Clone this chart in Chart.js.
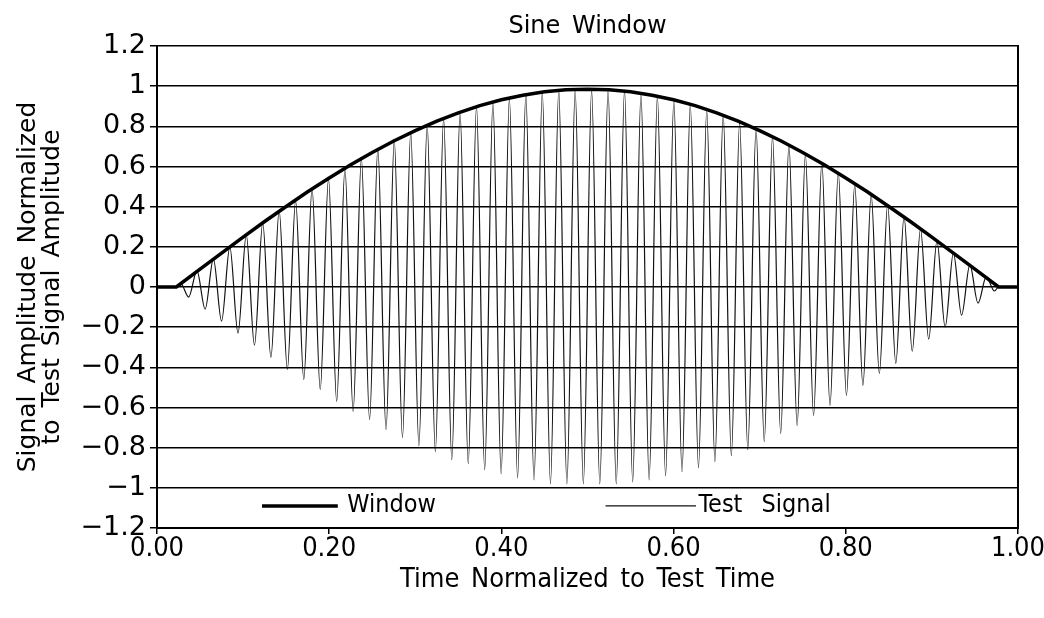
<!DOCTYPE html>
<html>
<head>
<meta charset="utf-8">
<script src="https://cdn.jsdelivr.net/npm/chart.js@4"></script>
<style>
html,body{margin:0;padding:0;background:#fff;}
#wrap{width:1044px;height:618px;}
</style>
</head>
<body>
<div id="wrap"><canvas id="sineChart" width="1044" height="618"></canvas></div>
<script>
// Values
const seriesNames=["Window","Test Signal"];
const xTickLabels=["0.00","0.20","0.40","0.60","0.80","1.00"];
const yTickLabels=["\u22121.2","\u22121","\u22120.8","\u22120.6","\u22120.4","\u22120.2","0","0.2","0.4","0.6","0.8","1","1.2"];

// Window envelope
const windowTimes=[0,0.0225,0.05,0.075,0.1,0.125,0.15,0.175,0.2,0.225,0.25,0.275,0.3,0.325,0.35,0.375,0.4,0.425,0.45,0.475,
  0.5,0.525,0.55,0.575,0.6,0.625,0.65,0.675,0.7,0.725,0.75,0.775,0.8,0.825,0.85,0.875,0.9,0.925,0.95,0.9775,1];
const windowValues=[0,0,0.089,0.169,0.248,0.326,0.401,0.474,0.543,0.609,0.670,0.727,0.779,0.826,0.867,0.903,0.932,0.955,0.972,0.982,
  0.985,0.982,0.972,0.955,0.932,0.903,0.867,0.826,0.779,0.727,0.670,0.609,0.543,0.474,0.401,0.326,0.248,0.169,0.089,0,0];

// Test signal: peaks and troughs of the burst
const signalTimes=[0,0.0225,
  0.0273,0.0368,0.0464,0.0559,0.0655,0.0750,0.0846,0.0941,0.1037,0.1132,0.1228,0.1323,0.1419,0.1514,0.1610,0.1705,0.1801,0.1896,0.1992,0.2087,
  0.2183,0.2278,0.2374,0.2469,0.2565,0.2660,0.2756,0.2851,0.2947,0.3042,0.3138,0.3233,0.3329,0.3424,0.3520,0.3615,0.3711,0.3806,0.3902,0.3997,
  0.4093,0.4188,0.4284,0.4379,0.4475,0.4570,0.4666,0.4761,0.4857,0.4952,0.5048,0.5143,0.5239,0.5334,0.5430,0.5525,0.5621,0.5716,0.5812,0.5907,
  0.6003,0.6098,0.6194,0.6289,0.6385,0.6480,0.6576,0.6671,0.6767,0.6862,0.6958,0.7053,0.7149,0.7244,0.7340,0.7435,0.7531,0.7626,0.7722,0.7817,
  0.7913,0.8008,0.8104,0.8199,0.8295,0.8390,0.8486,0.8581,0.8677,0.8772,0.8868,0.8963,0.9059,0.9154,0.9250,0.9345,0.9441,0.9536,0.9632,0.9727,
  0.9775,1];
const signalValues=[0,0,
  0.02,-0.05,0.08,-0.11,0.14,-0.17,0.20,-0.23,0.26,-0.29,0.32,-0.35,0.38,-0.41,0.43,-0.46,0.49,-0.51,0.54,-0.57,
  0.59,-0.62,0.64,-0.66,0.69,-0.71,0.73,-0.75,0.77,-0.79,0.81,-0.82,0.84,-0.86,0.87,-0.88,0.90,-0.91,0.92,-0.93,
  0.94,-0.95,0.96,-0.96,0.97,-0.98,0.98,-0.98,0.98,-0.98,0.98,-0.98,0.98,-0.98,0.98,-0.97,0.96,-0.96,0.95,-0.94,
  0.93,-0.92,0.91,-0.90,0.88,-0.87,0.86,-0.84,0.82,-0.81,0.79,-0.77,0.75,-0.73,0.71,-0.69,0.66,-0.64,0.62,-0.59,
  0.57,-0.54,0.51,-0.49,0.46,-0.43,0.41,-0.38,0.35,-0.32,0.29,-0.26,0.23,-0.20,0.17,-0.14,0.11,-0.08,0.05,-0.02,
  0,0];

function toPoints(xs,ys){return xs.map((x,i)=>({x:x,y:ys[i]}));}

const wideFont="'DejaVu Sans', Arial, sans-serif";
const narrowFont="'DejaVu Sans Condensed', 'DejaVu Sans', sans-serif";

// Old plotter fonts have wide word gaps
const wordGap={id:"wordGap",beforeDraw(chart){chart.ctx.wordSpacing="4px";}};

// Legend drawn inside the plot, between -1 and -1.2
const insideLegend={id:"insideLegend",afterDatasetsDraw(chart){
  const ctx=chart.ctx, x=chart.scales.x, y=chart.scales.y;
  const yy=y.getPixelForValue(-1.09);
  const items=[{from:0.122,to:0.21,text:0.221},{from:0.521,to:0.626,text:0.629}];
  ctx.save();
  ctx.font="25px "+narrowFont;
  ctx.wordSpacing="12px";
  ctx.textBaseline="middle";
  items.forEach((it,i)=>{
    const ds=chart.data.datasets[i];
    ctx.beginPath();
    ctx.lineWidth=ds.borderWidth;
    ctx.strokeStyle=ds.borderColor;
    ctx.moveTo(x.getPixelForValue(it.from),yy);
    ctx.lineTo(x.getPixelForValue(it.to),yy);
    ctx.stroke();
    ctx.fillStyle="#000";
    ctx.fillText(ds.label,x.getPixelForValue(it.text),yy);
  });
  ctx.restore();
}};

let ctx=document.getElementById("sineChart").getContext("2d");
let chart=new Chart(ctx,{
  type:"line",
  data:{datasets:[
    {label:seriesNames[0],data:toPoints(windowTimes,windowValues),borderColor:"#000",borderWidth:3.5,pointRadius:0,tension:0,fill:false},
    {label:seriesNames[1],data:toPoints(signalTimes,signalValues),borderColor:"#111",borderWidth:1.2,pointRadius:0,cubicInterpolationMode:"monotone",fill:false}
  ]},
  options:{
    responsive:false,animation:false,devicePixelRatio:1,
    layout:{padding:{left:0,right:22,top:0,bottom:0},autoPadding:false},
    plugins:{
      legend:{display:false},
      tooltip:{enabled:false},
      title:{display:true,fullSize:false,text:"Sine Window",color:"#000",font:{family:wideFont,size:24,weight:"normal"},padding:{top:12.6,bottom:4.6}}
    },
    scales:{
      x:{type:"linear",min:0,max:1,
        ticks:{stepSize:0.2,autoSkip:false,maxRotation:0,padding:-1,color:"#000",font:{family:narrowFont,size:27},callback:(v,i)=>xTickLabels[i]},
        grid:{drawOnChartArea:false,drawTicks:true,tickLength:6,color:"#000",lineWidth:1.5},
        border:{color:"#000",width:2},
        title:{display:true,text:"Time Normalized to Test Time",color:"#000",font:{family:narrowFont,size:27},padding:{bottom:22}},
        afterFit(s){s.height=90;}
      },
      y:{min:-1.2,max:1.2,
        ticks:{stepSize:0.2,autoSkip:false,padding:4,color:"#000",font:{family:wideFont,size:27},callback:(v,i)=>yTickLabels[i]},
        grid:{color:"#000",lineWidth:1.5,tickLength:7},
        border:{color:"#000",width:2},
        title:{display:true,text:["Signal Amplitude Normalized","to Test Signal Amplitude"],color:"#000",font:{family:wideFont,size:25,lineHeight:0.96},padding:{top:16}},
        afterFit(s){s.width=157;}
      },
      yRight:{position:"right",min:-1.2,max:1.2,
        ticks:{display:false},
        grid:{display:false,drawTicks:false},
        border:{display:true,color:"#000",width:2},
        afterFit(s){s.width=0;}
      }
    }
  },
  plugins:[wordGap,insideLegend]
});
</script>
</body>
</html>
